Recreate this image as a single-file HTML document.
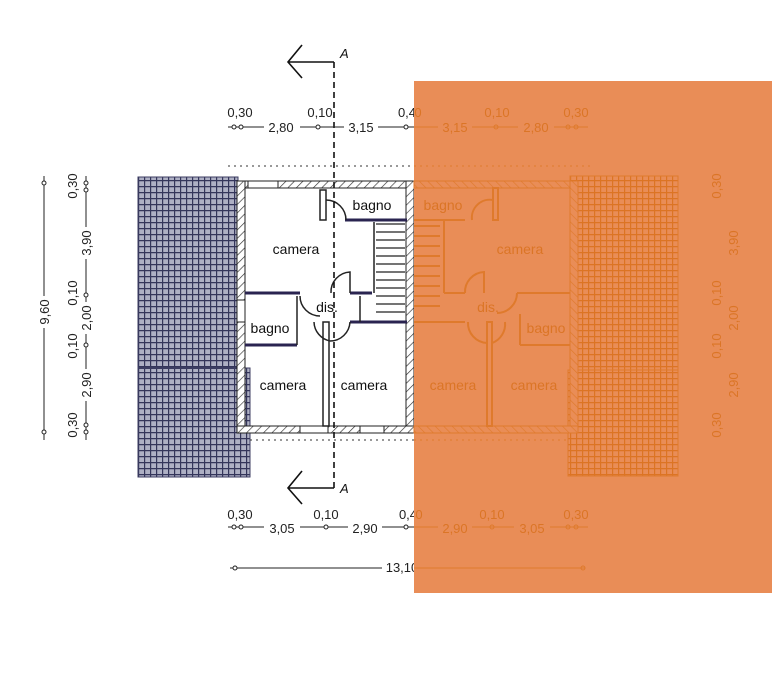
<!DOCTYPE html>
<html><head><meta charset="utf-8"><style>
html,body{margin:0;padding:0;background:#fff;}
svg{display:block;font-family:"Liberation Sans",sans-serif;}
</style></head><body>
<svg width="772" height="675" viewBox="0 0 772 675" xmlns="http://www.w3.org/2000/svg">
<defs>
<pattern id="tile" width="6" height="6" patternUnits="userSpaceOnUse">
<rect width="6" height="6" fill="#aeb0c4"/>
<path d="M0 0.5H6M0.5 0V6" stroke="#34355a" stroke-width="1.4"/>
</pattern>
<pattern id="tileO" width="6" height="6" patternUnits="userSpaceOnUse">
<rect width="6" height="6" fill="#e98d57"/>
<path d="M0 0.5H6M0.5 0V6" stroke="#dc7424" stroke-width="1.4"/>
</pattern>
<pattern id="hatch" width="6" height="6" patternUnits="userSpaceOnUse" patternTransform="rotate(45)">
<rect width="6" height="6" fill="#fff"/><path d="M0 0V6" stroke="#333" stroke-width="1.3"/>
</pattern>
<pattern id="hatchO" width="6" height="6" patternUnits="userSpaceOnUse" patternTransform="rotate(-45)">
<rect width="6" height="6" fill="#e98d57"/><path d="M0 0V6" stroke="#df7a2c" stroke-width="1.3"/>
</pattern>
</defs>

<rect x="138" y="177" width="100" height="191" fill="url(#tile)" stroke="#3c3d62"/>
<rect x="138" y="368" width="112" height="109" fill="url(#tile)" stroke="#3c3d62"/>
<line x1="138" y1="368" x2="238" y2="368" stroke="#3c3d62" stroke-width="2"/>

<line x1="228" y1="166" x2="590" y2="166" stroke="#333" stroke-dasharray="2,4"/>
<line x1="250" y1="440" x2="414" y2="440" stroke="#333" stroke-dasharray="2,4"/>

<g fill="url(#hatch)" stroke="#222" stroke-width="1">
<rect x="237" y="181" width="177" height="7"/>
<rect x="237" y="181" width="8" height="252"/>
<rect x="406" y="181" width="8" height="252"/>
<rect x="237" y="426" width="177" height="7"/>
</g>
<g fill="#fff" stroke="#222">
<rect x="248" y="181" width="30" height="7"/>
<rect x="300" y="426" width="28" height="7"/>
<rect x="360" y="426" width="24" height="7"/>
<rect x="237" y="300" width="8" height="22"/>
</g>
<g stroke="#2a2450" stroke-width="3" fill="none">
<line x1="245" y1="293" x2="300" y2="293"/>
<line x1="350" y1="293" x2="372" y2="293"/>
<line x1="345" y1="220" x2="407" y2="220"/>
<line x1="350" y1="322" x2="407" y2="322"/>
<line x1="245" y1="345" x2="297" y2="345"/>
</g>
<g stroke="#222" stroke-width="1.5" fill="none">
<rect x="320" y="190" width="6" height="30" fill="#fff"/>
<line x1="297" y1="296" x2="297" y2="345"/>
<rect x="323" y="322" width="6" height="104" fill="#fff"/>
<line x1="374" y1="222" x2="374" y2="293"/>
<line x1="360" y1="296" x2="360" y2="322"/>
<path d="M326 200 A20 20 0 0 1 346 220"/>
<path d="M331 293 A20 20 0 0 1 350 272 V293"/>
<path d="M300 296 A20 20 0 0 0 320 316"/>
<path d="M314 322 A20 20 0 0 0 330 341"/>
<path d="M350 322 A20 20 0 0 1 330 341"/>
</g>
<g stroke="#222" stroke-width="1.2">
<line x1="376" y1="224" x2="405" y2="224"/><line x1="376" y1="232" x2="405" y2="232"/>
<line x1="376" y1="240" x2="405" y2="240"/><line x1="376" y1="248" x2="405" y2="248"/>
<line x1="376" y1="256" x2="405" y2="256"/><line x1="376" y1="264" x2="405" y2="264"/>
<line x1="376" y1="272" x2="405" y2="272"/><line x1="376" y1="280" x2="405" y2="280"/>
<line x1="376" y1="288" x2="405" y2="288"/><line x1="376" y1="296" x2="405" y2="296"/>
<line x1="376" y1="304" x2="405" y2="304"/><line x1="376" y1="312" x2="405" y2="312"/>
</g>
<g font-size="14" fill="#111" text-anchor="middle">
<text x="372" y="210">bagno</text>
<text x="296" y="254">camera</text>
<text x="327" y="312">dis.</text>
<text x="270" y="333">bagno</text>
<text x="283" y="390">camera</text>
<text x="364" y="390">camera</text>
</g>

<g stroke="#111" stroke-width="1.6" fill="none">
<line x1="334" y1="62" x2="334" y2="492" stroke-dasharray="6,4"/>
<path d="M334 62H288M302 45L288 62L302 78"/>
<path d="M334 488H288M302 471L288 488L302 504"/>
</g>
<text x="340" y="58" font-size="13" font-style="italic" fill="#111">A</text>
<text x="340" y="493" font-size="13" font-style="italic" fill="#111">A</text>

<g stroke="#222" stroke-width="1" fill="none">
<line x1="228" y1="127" x2="414" y2="127"/>
<line x1="228" y1="527" x2="414" y2="527"/>
<line x1="230" y1="568" x2="414" y2="568"/>
<line x1="44" y1="176" x2="44" y2="440"/>
<line x1="86" y1="176" x2="86" y2="440"/>
</g>
<g fill="#fff" stroke="#222">
<circle cx="234" cy="127" r="2"/><circle cx="241" cy="127" r="2"/><circle cx="318" cy="127" r="2"/><circle cx="406" cy="127" r="2"/>
<circle cx="234" cy="527" r="2"/><circle cx="241" cy="527" r="2"/><circle cx="326" cy="527" r="2"/><circle cx="406" cy="527" r="2"/>
<circle cx="235" cy="568" r="2"/>
<circle cx="44" cy="183" r="2"/><circle cx="44" cy="432" r="2"/>
<circle cx="86" cy="183" r="2"/><circle cx="86" cy="190" r="2"/><circle cx="86" cy="295" r="2"/><circle cx="86" cy="345" r="2"/><circle cx="86" cy="425" r="2"/><circle cx="86" cy="432" r="2"/>
</g>
<g font-size="13" fill="#222" text-anchor="middle">
<rect x="264" y="119" width="36" height="14" fill="#fff"/><text x="281" y="132">2,80</text>
<rect x="344" y="119" width="34" height="14" fill="#fff"/><text x="361" y="132">3,15</text>
<text x="240" y="117">0,30</text><text x="320" y="117">0,10</text><text x="407" y="117">0,4</text>
<rect x="264" y="519" width="36" height="14" fill="#fff"/><text x="282" y="533">3,05</text>
<rect x="348" y="519" width="34" height="14" fill="#fff"/><text x="365" y="533">2,90</text>
<text x="240" y="519">0,30</text><text x="326" y="519">0,10</text><text x="408" y="519">0,4</text>
<rect x="382" y="561" width="34" height="14" fill="#fff"/><text x="402" y="572">13,10</text>
<g transform="translate(49,312) rotate(-90)"><rect x="-16" y="-12" width="32" height="15" fill="#fff"/><text>9,60</text></g>
<g transform="translate(91,243) rotate(-90)"><rect x="-16" y="-12" width="32" height="15" fill="#fff"/><text>3,90</text></g>
<g transform="translate(91,318) rotate(-90)"><rect x="-16" y="-12" width="32" height="15" fill="#fff"/><text>2,00</text></g>
<g transform="translate(91,385) rotate(-90)"><rect x="-16" y="-12" width="32" height="15" fill="#fff"/><text>2,90</text></g>
<g transform="translate(77,186) rotate(-90)"><text>0,30</text></g>
<g transform="translate(77,293) rotate(-90)"><text>0,10</text></g>
<g transform="translate(77,346) rotate(-90)"><text>0,10</text></g>
<g transform="translate(77,425) rotate(-90)"><text>0,30</text></g>
</g>

<rect x="414" y="81" width="358" height="512" fill="#e98d57"/>
<g stroke="#df7a2c" fill="none">
<rect x="570" y="176" width="108" height="194" fill="url(#tileO)"/>
<rect x="568" y="370" width="110" height="106" fill="url(#tileO)"/>
<line x1="414" y1="166" x2="590" y2="166" stroke-dasharray="2,4"/>
<line x1="414" y1="440" x2="566" y2="440" stroke-dasharray="2,4"/>
</g>
<g fill="url(#hatchO)" stroke="#df7a2c">
<rect x="414" y="181" width="164" height="7"/>
<rect x="570" y="181" width="8" height="252"/>
<rect x="414" y="426" width="164" height="7"/>
</g>
<g stroke="#df7a2c" stroke-width="2" fill="none">
<line x1="414" y1="220" x2="465" y2="220"/>
<line x1="444" y1="220" x2="444" y2="293"/>
<line x1="444" y1="293" x2="465" y2="293"/>
<line x1="517" y1="293" x2="570" y2="293"/>
<line x1="414" y1="322" x2="465" y2="322"/>
<rect x="493" y="188" width="5" height="32"/>
<rect x="487" y="322" width="5" height="104"/>
<line x1="520" y1="314" x2="520" y2="345"/>
<line x1="520" y1="345" x2="570" y2="345"/>
<path d="M472 220 A18 18 0 0 1 493 200"/>
<path d="M465 293 A20 20 0 0 1 484 272 V293"/>
<path d="M517 293 A20 20 0 0 1 497 313"/>
<path d="M468 322 A20 20 0 0 0 487 343"/>
<path d="M505 322 A20 20 0 0 1 492 343"/>
<line x1="414" y1="226" x2="440" y2="226"/><line x1="414" y1="236" x2="440" y2="236"/>
<line x1="414" y1="246" x2="440" y2="246"/><line x1="414" y1="256" x2="440" y2="256"/>
<line x1="414" y1="266" x2="440" y2="266"/><line x1="414" y1="276" x2="440" y2="276"/>
<line x1="414" y1="286" x2="440" y2="286"/><line x1="414" y1="296" x2="440" y2="296"/>
<line x1="414" y1="306" x2="440" y2="306"/>
</g>
<g font-size="14" fill="#db7526" text-anchor="middle">
<text x="443" y="210">bagno</text>
<text x="520" y="254">camera</text>
<text x="488" y="312">dis.</text>
<text x="546" y="333">bagno</text>
<text x="453" y="390">camera</text>
<text x="534" y="390">camera</text>
</g>
<g stroke="#df7a2c" fill="none">
<line x1="414" y1="127" x2="588" y2="127"/>
<line x1="414" y1="527" x2="588" y2="527"/>
<line x1="414" y1="568" x2="585" y2="568"/>
<circle cx="496" cy="127" r="2"/><circle cx="568" cy="127" r="2"/><circle cx="576" cy="127" r="2"/>
<circle cx="492" cy="527" r="2"/><circle cx="568" cy="527" r="2"/><circle cx="576" cy="527" r="2"/>
<circle cx="583" cy="568" r="2"/>
</g>
<g font-size="13" fill="#db7526" text-anchor="middle">
<text x="418" y="117">0</text>
<rect x="438" y="119" width="34" height="14" fill="#e98d57"/><text x="455" y="132">3,15</text>
<text x="497" y="117">0,10</text>
<rect x="518" y="119" width="36" height="14" fill="#e98d57"/><text x="536" y="132">2,80</text>
<text x="576" y="117">0,30</text>
<text x="419" y="519">0</text>
<rect x="438" y="519" width="34" height="14" fill="#e98d57"/><text x="455" y="533">2,90</text>
<text x="492" y="519">0,10</text>
<rect x="514" y="519" width="36" height="14" fill="#e98d57"/><text x="532" y="533">3,05</text>
<text x="576" y="519">0,30</text>
<g transform="translate(721,186) rotate(-90)"><text>0,30</text></g>
<g transform="translate(738,243) rotate(-90)"><text>3,90</text></g>
<g transform="translate(721,293) rotate(-90)"><text>0,10</text></g>
<g transform="translate(738,318) rotate(-90)"><text>2,00</text></g>
<g transform="translate(721,346) rotate(-90)"><text>0,10</text></g>
<g transform="translate(738,385) rotate(-90)"><text>2,90</text></g>
<g transform="translate(721,425) rotate(-90)"><text>0,30</text></g>
</g>
</svg>
</body></html>
